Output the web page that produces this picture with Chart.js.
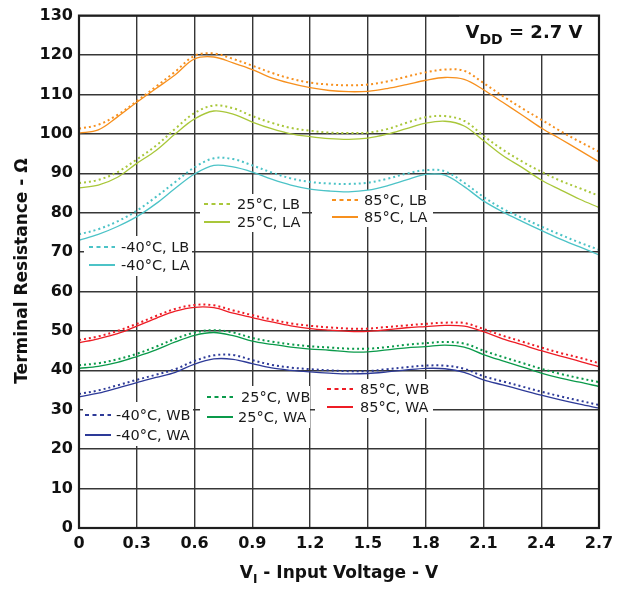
<!DOCTYPE html>
<html>
<head>
<meta charset="utf-8">
<script src="https://cdn.jsdelivr.net/npm/chart.js@4.4.1/dist/chart.umd.min.js"></script>
<style>
  html, body { margin: 0; padding: 0; background: #fff; }
  #wrap { width: 627px; height: 590px; }
</style>
</head>
<body>
<div id="wrap"><canvas id="resChart" width="627" height="590"></canvas></div>
<script>
// input voltage (V), one sample every 0.1 V
const voltages = [0, 0.1, 0.2, 0.3, 0.4, 0.5, 0.6, 0.7, 0.8, 0.9, 1.0, 1.1, 1.2, 1.3,
                  1.4, 1.5, 1.6, 1.7, 1.8, 1.9, 2.0, 2.1, 2.2, 2.3, 2.4, 2.5, 2.6, 2.7];
const xTicks = [0, 0.3, 0.6, 0.9, 1.2, 1.5, 1.8, 2.1, 2.4, 2.7];
const yTicks = [0, 10, 20, 30, 40, 50, 60, 70, 80, 90, 100, 110, 120, 130];

// terminal resistance (ohm)
const lb85 = [101.3, 102.3, 104.8, 108.3, 112, 115.8, 119.8, 120.4, 119, 117.3, 115.5, 114, 113, 112.5,
              112.3, 112.5, 113.3, 114.5, 115.6, 116.3, 116, 112.9, 109.6, 106.5, 103.6, 100.7, 98, 95.5];
const la85 = [100.2, 101, 104.3, 108, 111.5, 115, 119, 119.5, 118, 116.3, 114.2, 112.8, 111.7, 111,
              110.7, 110.8, 111.5, 112.5, 113.6, 114.3, 113.8, 111.2, 108, 104.8, 101.5, 98.7, 95.8, 92.9];
const lb25 = [87.5, 88.3, 90.3, 93.5, 97, 101.3, 105.3, 107.2, 106.5, 104.5, 102.8, 101.5, 100.8, 100.3,
              100.2, 100.3, 101.2, 102.8, 104.2, 104.5, 103.3, 99.5, 96, 93, 90.4, 88.1, 86.2, 84.3];
const la25 = [86.3, 87, 89, 92.5, 95.8, 100, 103.8, 105.8, 105, 103, 101.3, 100, 99.3, 98.8,
              98.6, 98.9, 99.9, 101.3, 102.7, 103.2, 102, 98.3, 94.5, 91.5, 88.3, 85.8, 83.4, 81.3];
const lbM40 = [74.5, 75.8, 77.8, 80.5, 84, 87.8, 91.5, 93.8, 93.6, 92, 90.2, 88.7, 87.8, 87.4,
               87.3, 87.6, 88.6, 89.9, 90.8, 90.5, 87.6, 84, 81, 78.7, 76.5, 74.4, 72.4, 70.6];
const laM40 = [73, 74.5, 76.5, 79, 82.3, 86.2, 89.8, 92, 91.6, 90.3, 88.5, 87, 86, 85.5,
               85.3, 85.7, 86.8, 88.3, 89.7, 89.5, 86.6, 83, 80.2, 77.8, 75.5, 73.3, 71.3, 69.3];
const wb85 = [47.7, 48.6, 50, 51.8, 53.8, 55.6, 56.6, 56.5, 55.2, 54, 52.9, 51.9, 51.3, 50.9,
              50.6, 50.6, 51, 51.4, 51.8, 52.1, 52, 50.5, 48.8, 47.3, 45.8, 44.4, 43.2, 41.8];
const wa85 = [47, 48, 49.3, 51.2, 53.2, 55, 56, 55.9, 54.5, 53.4, 52.3, 51.3, 50.6, 50.2,
              49.9, 49.9, 50.3, 50.8, 51.1, 51.4, 51.2, 49.8, 48, 46.5, 45, 43.6, 42.3, 40.9];
const wb25 = [41.3, 41.8, 42.8, 44.2, 46, 48, 49.6, 50.2, 49.6, 48.2, 47.3, 46.6, 46.1, 45.8,
              45.5, 45.5, 45.9, 46.5, 46.9, 47.2, 46.8, 45, 43.4, 41.9, 40.4, 39.1, 38, 37];
const wa25 = [40.5, 41, 42, 43.5, 45.2, 47.2, 48.9, 49.6, 48.8, 47.4, 46.6, 45.9, 45.4, 45.1,
              44.7, 44.7, 45.2, 45.7, 46, 46.4, 45.9, 44, 42.4, 40.9, 39.3, 38, 37, 35.9];
const wbM40 = [34, 34.9, 36.2, 37.6, 38.9, 40.3, 42.4, 43.8, 43.9, 42.6, 41.4, 40.7, 40.3, 40,
               39.8, 39.8, 40.3, 40.8, 41.2, 41.2, 40.4, 38.5, 37.2, 35.9, 34.6, 33.4, 32.3, 31.2];
const waM40 = [33.3, 34.2, 35.5, 36.9, 38.2, 39.5, 41.6, 42.9, 42.8, 41.7, 40.6, 40, 39.6, 39.3,
               39.1, 39.2, 39.6, 40.1, 40.5, 40.4, 39.5, 37.6, 36.3, 35, 33.7, 32.5, 31.4, 30.4];

const seriesNames = ['85°C, LB', '85°C, LA', '25°C, LB', '25°C, LA', '-40°C, LB', '-40°C, LA',
                     '85°C, WB', '85°C, WA', '25°C, WB', '25°C, WA', '-40°C, WB', '-40°C, WA'];
const seriesValues = [lb85, la85, lb25, la25, lbM40, laM40, wb85, wa85, wb25, wa25, wbM40, waM40];
const seriesColors = ['#f7901e', '#f7901e', '#a9c73a', '#a9c73a', '#4cc3c7', '#4cc3c7',
                      '#ee1c25', '#ee1c25', '#0a9a4a', '#0a9a4a', '#2d3a98', '#2d3a98'];

const datasets = seriesValues.map((vals, i) => {
    const dotted = i % 2 === 0;
    return {
        label: seriesNames[i],
        data: vals.map((v, k) => ({ x: voltages[k], y: v })),
        borderColor: seriesColors[i],
        borderWidth: dotted ? 2 : 1.3,
        borderDash: dotted ? [2, 3] : [],
        pointRadius: 0,
        tension: 0.35,
        fill: false
    };
});

// in-plot legend boxes: white patch, then sample line + text (pixels)
const legendBoxes = [
    { x: 84, y: 236, w: 108, h: 40 },
    { x: 200, y: 194, w: 102, h: 38 },
    { x: 312, y: 190, w: 121, h: 37 },
    { x: 83, y: 402, w: 110, h: 44 },
    { x: 200, y: 386, w: 110, h: 42 },
    { x: 315, y: 379, w: 118, h: 39 }
];
const legendRows = [
    { ds: 4, x: 89, y: 247, tx: 121 },
    { ds: 5, x: 89, y: 265, tx: 121 },
    { ds: 2, x: 204, y: 204, tx: 237 },
    { ds: 3, x: 204, y: 222, tx: 237 },
    { ds: 0, x: 332, y: 200, tx: 364 },
    { ds: 1, x: 332, y: 217, tx: 364 },
    { ds: 10, x: 85, y: 415, tx: 116 },
    { ds: 11, x: 85, y: 435, tx: 116 },
    { ds: 8, x: 207, y: 397, tx: 241 },
    { ds: 9, x: 207, y: 417, tx: 238 },
    { ds: 6, x: 327, y: 389, tx: 360 },
    { ds: 7, x: 327, y: 407, tx: 360 }
];

// draw text with subscript pieces, centred on cx, baseline by
function drawParts(ctx, parts, cx, by, size, subSize) {
    const widths = parts.map(p => {
        ctx.font = 'bold ' + (p.sub ? subSize : size) + 'px "DejaVu Sans"';
        return ctx.measureText(p.t).width;
    });
    let x = cx - widths.reduce((a, b) => a + b, 0) / 2;
    parts.forEach((p, i) => {
        ctx.font = 'bold ' + (p.sub ? subSize : size) + 'px "DejaVu Sans"';
        ctx.fillText(p.t, x, p.sub ? by + size * 0.32 : by);
        x += widths[i];
    });
}

const annotations = {
    id: 'annotations',
    beforeDatasetsDraw(chart) {
        const ctx = chart.ctx;
        ctx.save();
        ctx.fillStyle = '#fff';
        legendBoxes.forEach(b => ctx.fillRect(b.x, b.y, b.w, b.h));
        ctx.fillRect(459, 14, 131, 40);
        ctx.restore();
    },
    afterDatasetsDraw(chart) {
        const ctx = chart.ctx;
        const a = chart.chartArea;
        ctx.save();
        // frame
        ctx.strokeStyle = '#1e1e1e';
        ctx.lineWidth = 2.2;
        ctx.strokeRect(a.left, a.top, a.right - a.left, a.bottom - a.top);

        // legend rows
        ctx.textBaseline = 'middle';
        ctx.textAlign = 'left';
        legendRows.forEach(r => {
            const ds = chart.data.datasets[r.ds];
            ctx.strokeStyle = ds.borderColor;
            ctx.lineWidth = 2;
            ctx.setLineDash(r.ds % 2 === 0 ? [4, 3.5] : []);
            ctx.beginPath();
            ctx.moveTo(r.x, r.y);
            ctx.lineTo(r.x + 26, r.y);
            ctx.stroke();
            ctx.setLineDash([]);
            ctx.fillStyle = '#1a1a1a';
            ctx.font = '14.5px "DejaVu Sans"';
            ctx.fillText(ds.label, r.tx, r.y + 1);
        });

        // titles
        ctx.fillStyle = '#111';
        ctx.textBaseline = 'alphabetic';
        ctx.textAlign = 'left';
        drawParts(ctx, [{ t: 'V' }, { t: 'DD', sub: true }, { t: ' = 2.7 V' }], 524, 38, 18, 14);
        drawParts(ctx, [{ t: 'V' }, { t: 'I', sub: true }, { t: ' - Input Voltage - V' }],
                  (a.left + a.right) / 2, 578, 17, 12);
        ctx.translate(26.5, 271);
        ctx.rotate(-Math.PI / 2);
        ctx.font = 'bold 17px "DejaVu Sans"';
        ctx.textAlign = 'center';
        ctx.fillText('Terminal Resistance - Ω', 0, 0);
        ctx.restore();
    }
};

const ctx = document.getElementById('resChart');

new Chart(ctx, {
    type: 'line',
    data: { datasets: datasets },
    options: {
        responsive: false,
        animation: false,
        devicePixelRatio: 1,
        layout: { padding: { top: 13, right: 28, left: 0, bottom: 0 } },
        plugins: {
            legend: { display: false },
            tooltip: { enabled: false }
        },
        scales: {
            x: {
                type: 'linear',
                min: 0,
                max: 2.7,
                afterBuildTicks: scale => { scale.ticks = xTicks.map(v => ({ value: v })); },
                afterFit: scale => { scale.height = 62; },
                grid: { color: '#363636', lineWidth: 1.4, drawTicks: false },
                border: { display: false },
                ticks: {
                    padding: 6,
                    color: '#111',
                    font: { family: 'DejaVu Sans', size: 16, weight: 'bold' },
                    maxRotation: 0,
                    callback: v => (v === 0 ? '0' : v.toFixed(1))
                }
            },
            y: {
                min: 0,
                max: 130,
                afterBuildTicks: scale => { scale.ticks = yTicks.map(v => ({ value: v })); },
                afterFit: scale => { scale.width = 79; },
                grid: { color: '#363636', lineWidth: 1.4, drawTicks: false },
                border: { display: false },
                ticks: {
                    padding: 6,
                    color: '#111',
                    font: { family: 'DejaVu Sans', size: 16, weight: 'bold' }
                }
            }
        }
    },
    plugins: [annotations]
});
</script>
</body>
</html>
